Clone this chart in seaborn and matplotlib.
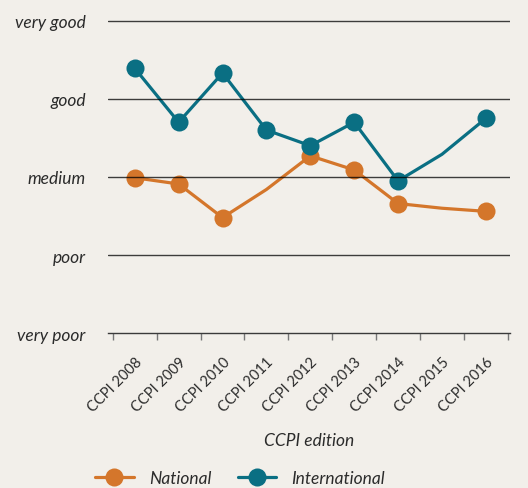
import matplotlib
matplotlib.use('Agg')
import matplotlib.pyplot as plt
from matplotlib.lines import Line2D
import seaborn as sns
import pandas as pd

# Data (0 = very poor ... 4 = very good)
editions = ['CCPI 2008', 'CCPI 2009', 'CCPI 2010', 'CCPI 2011', 'CCPI 2012',
            'CCPI 2013', 'CCPI 2014', 'CCPI 2015', 'CCPI 2016']
national = [1.99, 1.91, 1.48, 1.84, 2.27, 2.09, 1.66, 1.60, 1.56]
international = [3.39, 2.70, 3.33, 2.60, 2.40, 2.70, 1.95, 2.29, 2.75]
level_labels = ['very poor', 'poor', 'medium', 'good', 'very good']

# editions drawn with a marker (the others only have the line)
national_marks = [0, 1, 2, 4, 5, 6, 8]
international_marks = [0, 1, 2, 3, 4, 5, 6, 8]

bg = '#f2efea'
orange = '#d4762b'
teal = '#0a6f83'
text_col = '#2b2b2b'

df = pd.DataFrame({'pos': range(len(editions)), 'edition': editions,
                   'National': national, 'International': international})

sns.set_style('white')
plt.rcParams['font.family'] = ['Lato', 'DejaVu Sans']

fig = plt.figure(figsize=(5.28, 4.89), dpi=100, facecolor=bg)
ax = fig.add_axes([108 / 528, 0.3164, 402 / 528, 0.6553])
ax.set_facecolor(bg)

sns.lineplot(data=df, x='pos', y='National', ax=ax, color=orange, lw=2.3,
             marker='o', markersize=13, markeredgewidth=0,
             markevery=national_marks, zorder=3)
sns.lineplot(data=df, x='pos', y='International', ax=ax, color=teal, lw=2.3,
             marker='o', markersize=13, markeredgewidth=0,
             markevery=international_marks, zorder=3)

for lvl in range(1, 5):
    ax.axhline(lvl, color='black', alpha=0.75, lw=1.0, zorder=5)

ax.set_xlim(-0.61, 8.55)
ax.set_ylim(0, 4.1)

for side in ['top', 'right', 'left']:
    ax.spines[side].set_visible(False)
ax.spines['bottom'].set_color('#3a3a3a')
ax.spines['bottom'].set_linewidth(1.0)

ax.set_yticks(range(5))
ax.set_yticklabels(level_labels, fontsize=12.5, style='italic', color=text_col)
ax.tick_params(axis='y', length=0, pad=16)

ax.set_xticks(range(len(editions)))
ax.set_xticklabels(editions, rotation=45, ha='right', rotation_mode='anchor',
                   fontsize=10.5, color=text_col)
ax.set_xticks([i - 0.5 for i in range(len(editions) + 1)], minor=True)
ax.tick_params(axis='x', which='both', bottom=True)
ax.tick_params(axis='x', which='major', length=0, pad=15)
ax.tick_params(axis='x', which='minor', length=5, width=1, color='#777777',
               direction='out')

ax.set_xlabel('CCPI edition', fontsize=12.5, style='italic', color=text_col,
              labelpad=13)
ax.set_ylabel('')
ax.grid(False)

handles = [
    Line2D([], [], color=orange, lw=2.3, marker='o', markersize=13,
           markeredgewidth=0),
    Line2D([], [], color=teal, lw=2.3, marker='o', markersize=13,
           markeredgewidth=0),
]
leg = fig.legend(handles, ['National', 'International'], loc='lower center',
                 bbox_to_anchor=(0.455, -0.027), ncol=2, frameon=False,
                 handlelength=2.2, columnspacing=1.5, handletextpad=0.9,
                 prop={'size': 12.5, 'style': 'italic'})
for t in leg.get_texts():
    t.set_color(text_col)

fig.savefig('out.png', dpi=100, facecolor=bg)
